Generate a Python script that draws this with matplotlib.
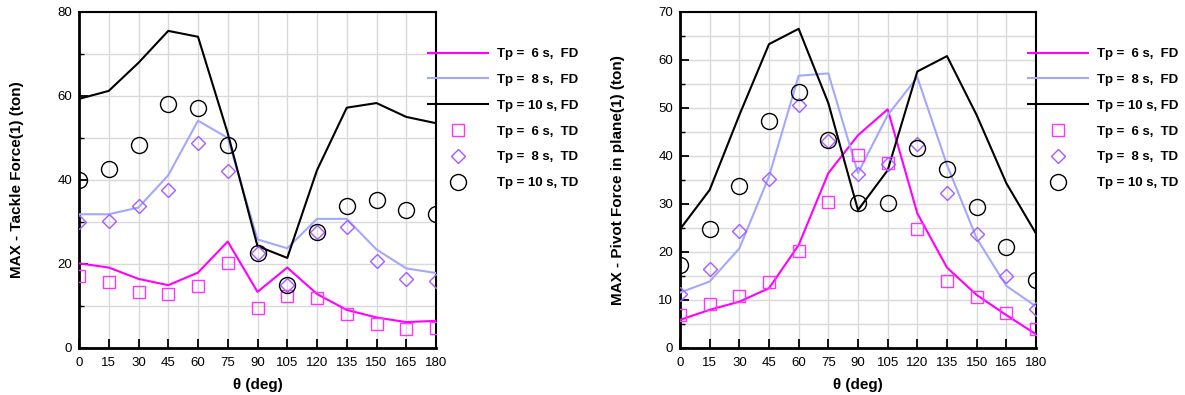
import matplotlib
matplotlib.use("Agg")
import matplotlib.pyplot as plt
from matplotlib.ticker import MultipleLocator

plt.rcParams['font.family'] = ['Liberation Sans', 'DejaVu Sans']

theta = [0, 15, 30, 45, 60, 75, 90, 105, 120, 135, 150, 165, 180]

# Left chart: MAX - Tackle Force(1) (ton)
tackle_fd_6 = [20.1, 19.1, 16.4, 14.9, 17.9, 25.3, 13.3, 19.1, 12.8, 9.0, 7.2, 6.1, 6.4]
tackle_fd_8 = [31.8, 31.8, 33.4, 41.1, 54.1, 50.0, 25.8, 23.7, 30.7, 30.7, 23.4, 18.9, 17.8]
tackle_fd_10 = [59.3, 61.2, 67.9, 75.5, 74.1, 51.1, 24.2, 21.4, 42.3, 57.2, 58.3, 55.0, 53.5]
tackle_td_6 = [17.2, 15.7, 13.3, 12.9, 14.8, 20.1, 9.4, 12.3, 11.9, 8.0, 5.6, 4.5, 4.6]
tackle_td_8 = [29.9, 30.3, 33.8, 37.6, 48.8, 42.0, 22.5, 15.0, 27.5, 28.8, 20.7, 16.3, 15.8]
tackle_td_10 = [40.0, 42.5, 48.3, 58.1, 57.1, 48.4, 22.5, 14.9, 27.5, 33.8, 35.2, 32.8, 31.9]

# Right chart: MAX - Pivot Force in plane(1) (ton)
pivot_fd_6 = [5.8, 7.9, 9.6, 12.4, 21.4, 36.4, 44.3, 49.7, 28.0, 16.7, 11.0, 6.8, 2.8]
pivot_fd_8 = [11.5, 13.8, 20.7, 35.7, 56.7, 57.2, 36.4, 48.5, 56.4, 38.1, 22.8, 12.9, 8.6]
pivot_fd_10 = [24.7, 32.9, 48.5, 63.3, 66.5, 51.0, 28.7, 37.0, 57.6, 60.8, 48.5, 34.3, 23.8]
pivot_td_6 = [6.8, 9.1, 10.8, 13.6, 20.2, 30.4, 40.2, 38.6, 24.7, 13.9, 10.5, 7.2, 3.9]
pivot_td_8 = [11.3, 16.5, 24.4, 35.2, 50.6, 43.2, 36.2, 38.3, 42.5, 32.3, 23.8, 14.9, 8.1]
pivot_td_10 = [17.2, 24.7, 33.7, 47.3, 53.4, 43.3, 30.1, 30.1, 41.6, 37.3, 29.4, 20.9, 14.1]

labels = ["Tp =  6 s,  FD", "Tp =  8 s,  FD", "Tp = 10 s, FD",
          "Tp =  6 s,  TD", "Tp =  8 s,  TD", "Tp = 10 s, TD"]

xticks = [0, 15, 30, 45, 60, 75, 90, 105, 120, 135, 150, 165, 180]

MAG = '#FF00FF'
LBLUE = '#A3A8FF'
SQ = '#FF33FF'
DIA = '#A35CFF'

W, H = 1185, 395
fig = plt.figure(figsize=(W / 100, H / 100), dpi=100)


def make_axes(x0, x1, y_top, y_bot):
    return fig.add_axes([x0 / W, 1 - y_bot / H, (x1 - x0) / W, (y_bot - y_top) / H])


def draw(ax, fd6, fd8, fd10, td6, td8, td10, ymax, ymaj, ymin, ylabel, leg_x):
    ax.plot(theta, fd6, color=MAG, lw=1.5, label=labels[0], zorder=3)
    ax.plot(theta, fd8, color=LBLUE, lw=1.5, label=labels[1], zorder=3)
    ax.plot(theta, fd10, color='black', lw=1.5, label=labels[2], zorder=3)
    ax.plot(theta, td6, ls='none', marker='s', ms=8.5, mfc='none', mec=SQ, mew=1.0,
            label=labels[3], zorder=4)
    ax.plot(theta, td8, ls='none', marker='D', ms=7.5, mfc='none', mec=DIA, mew=1.0,
            label=labels[4], zorder=4)
    ax.plot(theta, td10, ls='none', marker='o', ms=11.5, mfc='none', mec='black', mew=1.0,
            label=labels[5], zorder=4)
    ax.set_xlim(0, 180)
    ax.set_ylim(0, ymax)
    ax.set_xticks(xticks)
    ax.yaxis.set_major_locator(MultipleLocator(ymaj))
    ax.yaxis.set_minor_locator(MultipleLocator(ymin))
    ax.grid(True, which='both', axis='y', color='#D9D9D9', lw=1.0, zorder=0)
    ax.grid(True, which='major', axis='x', color='#D9D9D9', lw=1.0, zorder=0)
    ax.set_axisbelow(True)
    ax.tick_params(axis='both', which='major', direction='in', length=6.5, width=1.3,
                   labelsize=9.5, top=False, right=False)
    ax.tick_params(axis='x', which='major', pad=7)
    ax.tick_params(axis='y', which='major', pad=5)
    ax.tick_params(axis='y', which='minor', direction='in', length=3.5, width=1.0, right=False)
    ax.tick_params(axis='x', which='minor', bottom=False)
    for s in ['left', 'bottom']:
        ax.spines[s].set_linewidth(2.0)
    for s in ['top', 'right']:
        ax.spines[s].set_linewidth(1.5)
    ax.set_xlabel('θ (deg)', fontsize=11, fontweight='bold', labelpad=6)
    ax.set_ylabel(ylabel, fontsize=11, fontweight='bold', labelpad=24)
    leg = ax.legend(loc='upper left', bbox_to_anchor=(leg_x, 0.893), frameon=False,
                    prop={'weight': 'bold', 'size': 9.5},
                    handlelength=4.55, handletextpad=0.68, labelspacing=1.03,
                    borderpad=0, borderaxespad=0, numpoints=1)
    leg.set_zorder(5)


ax1 = make_axes(79, 436, 12, 347.7)
draw(ax1, tackle_fd_6, tackle_fd_8, tackle_fd_10, tackle_td_6, tackle_td_8, tackle_td_10,
     80, 20, 10, 'MAX - Tackle Force(1) (ton)', (428 - 79) / (436 - 79))

ax2 = make_axes(680, 1036, 12, 347.7)
draw(ax2, pivot_fd_6, pivot_fd_8, pivot_fd_10, pivot_td_6, pivot_td_8, pivot_td_10,
     70, 10, 5, 'MAX - Pivot Force in plane(1) (ton)', (1028 - 680) / (1036 - 680))

fig.savefig('out.png', dpi=100)
